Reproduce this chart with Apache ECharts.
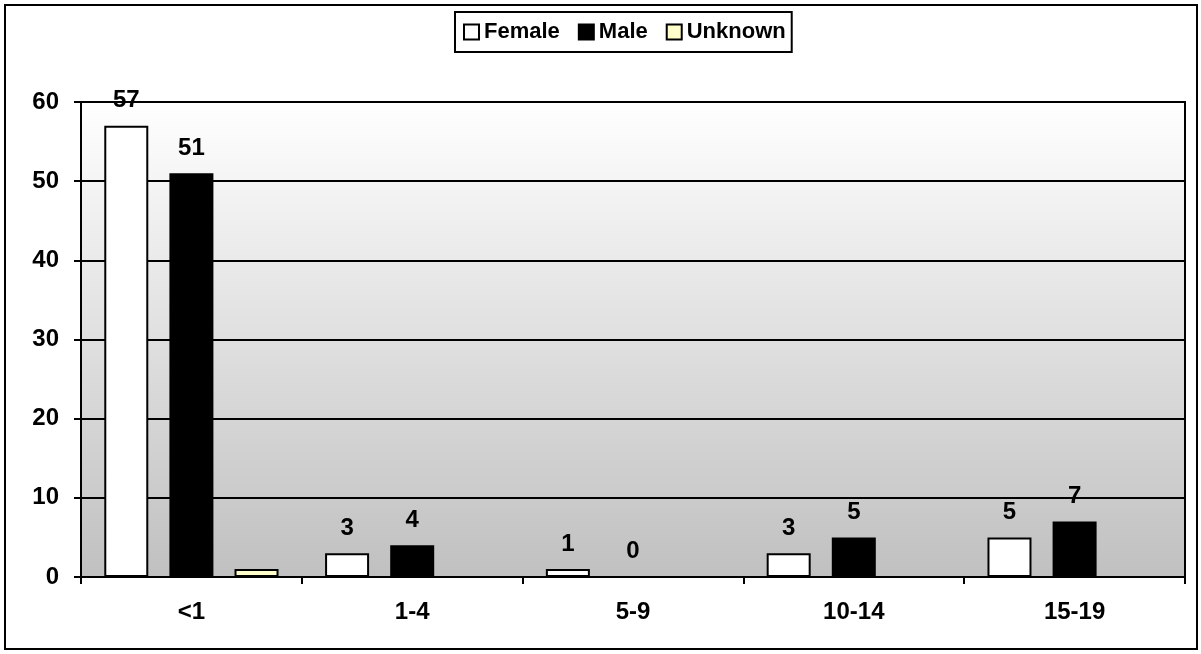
<!DOCTYPE html>
<html>
<head>
<meta charset="utf-8">
<script src="https://cdn.jsdelivr.net/npm/echarts@6/dist/echarts.min.js"></script>
<style>html,body{margin:0;padding:0;background:#fff;}#c{width:1201px;height:654px;}</style>
</head>
<body>
<div id="c"></div>
<script>
const categories = ['<1', '1-4', '5-9', '10-14', '15-19'];
const female = [57, 3, 1, 3, 5];
const male = [51, 4, 0, 5, 7];
const unknown = [1, null, null, null, null];
const yTicks = { min: 0, max: 60, interval: 10 };

const FONT = '"Liberation Sans", Arial, sans-serif';
const chart = echarts.init(document.getElementById('c'), null, { renderer: 'canvas' });
const labelStyle = { show: true, position: 'top', distance: 13, color: '#000', fontFamily: FONT, fontWeight: 'bold', fontSize: 24 };
chart.setOption({
  animation: false,
  backgroundColor: '#fff',
  graphic: [{
    type: 'rect', z: -10, silent: true,
    shape: { x: 5, y: 5, width: 1192, height: 644 },
    style: { fill: 'none', stroke: '#000', lineWidth: 2 }
  }],
  legend: {
    left: 455, top: 12,
    padding: [9, 6, 9, 8],
    borderColor: '#000', borderWidth: 2, borderRadius: 0,
    backgroundColor: '#fff',
    itemWidth: 15, itemHeight: 15, itemGap: 18,
    icon: 'rect',
    itemStyle: { borderColor: '#000', borderWidth: 2 },
    textStyle: { color: '#000', fontFamily: FONT, fontWeight: 'bold', fontSize: 22 },
    data: ['Female', 'Male', 'Unknown']
  },
  grid: {
    left: 81, right: 16, top: 102, bottom: 77,
    show: true,
    borderColor: '#000', borderWidth: 2,
    backgroundColor: { type: 'linear', x: 0, y: 0, x2: 0, y2: 1, colorStops: [{ offset: 0, color: '#ffffff' }, { offset: 1, color: '#c0c0c0' }] }
  },
  xAxis: {
    type: 'category', data: categories, boundaryGap: true,
    axisLine: { lineStyle: { color: '#000', width: 2 } },
    axisTick: { show: true, alignWithLabel: false, length: 7, lineStyle: { color: '#000', width: 2 } },
    axisLabel: { color: '#000', fontFamily: FONT, fontWeight: 'bold', fontSize: 24, margin: 23 }
  },
  yAxis: {
    type: 'value', min: yTicks.min, max: yTicks.max, interval: yTicks.interval,
    axisLine: { show: true, lineStyle: { color: '#000', width: 2 } },
    axisTick: { show: true, length: 7, lineStyle: { color: '#000', width: 2 } },
    splitLine: { show: true, lineStyle: { color: '#000', width: 2 } },
    axisLabel: { color: '#000', fontFamily: FONT, fontWeight: 'bold', fontSize: 24, margin: 22 }
  },
  series: [
    { name: 'Female', type: 'bar', data: female, barWidth: 44, barGap: '48%',
      itemStyle: { color: '#ffffff', borderColor: '#000', borderWidth: 2 }, label: labelStyle },
    { name: 'Male', type: 'bar', data: male, barWidth: 44, barGap: '48%',
      itemStyle: { color: '#000000', borderColor: '#000', borderWidth: 2 }, label: labelStyle },
    { name: 'Unknown', type: 'bar', data: unknown, barWidth: 44, barGap: '48%',
      itemStyle: { color: '#ffffcc', borderColor: '#000', borderWidth: 2 }, label: { show: false } }
  ]
});
</script>
</body>
</html>
